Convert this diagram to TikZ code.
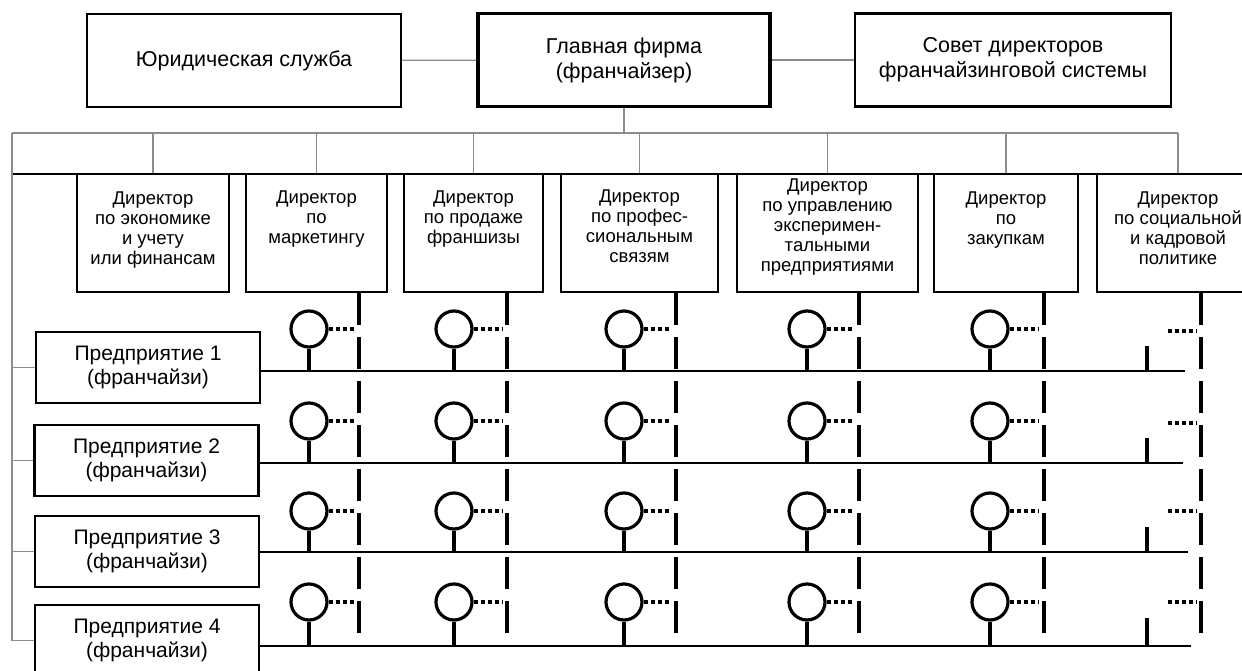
\documentclass[tikz,border=0pt]{standalone}
\usepackage{fontspec}
\setmainfont{Liberation Sans}
\usetikzlibrary{positioning}

\begin{document}
\begin{tikzpicture}[
		x=1pt, y=-1pt,
		every node/.style={align=center, inner sep=0pt},
		topbox/.style={draw, line width=2.2pt, minimum height=93pt, font=\fontsize{21.5}{25}\selectfont},
		dirbox/.style={draw, line width=2.2pt, minimum height=118pt},
		dirtext/.style={font=\fontsize{18.5}{20}\selectfont},
		entbox/.style={draw, line width=2.2pt, minimum width=224pt, minimum height=71pt, font=\fontsize{21}{23.5}\selectfont},
		link/.style={draw=black!45, line width=1.3pt},
		rowline/.style={line width=1.8pt},
		head/.style={circle, draw, line width=3.2pt, minimum size=36pt},
		stem/.style={line width=3.2pt},
		vdash/.style={line width=3.4pt, dash pattern=on 32pt off 12pt},
		dots/.style={line width=3.4pt, dash pattern=on 4pt off 3pt}
	]
  \useasboundingbox (0,0) rectangle (1242,671);
  \clip (0,0) rectangle (1242,671);

  \node (jur) [topbox, minimum width=314pt] at (244,60.5) {Юридическая служба};
  \node (main_firm) [topbox, minimum width=292pt, line width=3.6pt] at (624,60) {Главная фирма\\(франчайзер)};
  \node (board) [topbox, minimum width=316pt] at (1013,60) {Совет директоров\\франчайзинговой системы};
  \draw [link] (jur) -- (main_firm);
  \draw [link] (main_firm) -- (board);

  \coordinate (bus_l) at (12,133);
  \coordinate (bus_r) at (1178,133);
  \coordinate (top_l) at (12,174);
  \coordinate (top_r) at (1242,174);
  \draw [link] (bus_l) -- (bus_r);
  \draw [link] (main_firm) -- (main_firm.south |- bus_l);
  \draw [line width=2pt] (top_l) -- (top_r);

  \node (dir_1) [dirbox, minimum width=152pt] at (153,233) {};
  \node (dir_2) [dirbox, minimum width=141pt] at (316.5,233) {};
  \node (dir_3) [dirbox, minimum width=139pt] at (473.5,233) {};
  \node (dir_4) [dirbox, minimum width=157pt] at (639.5,233) {};
  \node (dir_5) [dirbox, minimum width=181pt] at (827.5,233) {};
  \node (dir_6) [dirbox, minimum width=144pt] at (1006,233) {};
  \node (dir_7) [dirbox, minimum width=162pt] at (1178,233) {};
  \node (dir_1_t) [dirtext, below=19pt of dir_1.north] {Директор\\по экономике\\и учету\\или финансам};
  \node (dir_2_t) [dirtext, below=18pt of dir_2.north] {Директор\\по\\маркетингу};
  \node (dir_3_t) [dirtext, below=18pt of dir_3.north] {Директор\\по продаже\\франшизы};
  \node (dir_4_t) [dirtext, below=17pt of dir_4.north] {Директор\\по профес-\\сиональным\\связям};
  \node (dir_5_t) [dirtext, below=6pt of dir_5.north] {Директор\\по управлению\\эксперимен-\\тальными\\предприятиями};
  \node (dir_6_t) [dirtext, below=19pt of dir_6.north] {Директор\\по\\закупкам};
  \node (dir_7_t) [dirtext, below=19pt of dir_7.north] {Директор\\по социальной\\и кадровой\\политике};
  \foreach \j in {1,...,7}
    \draw [link] (dir_\j.north) -- (dir_\j.north |- bus_l);

  \node (ent_1) [entbox] at (148,367.5) {Предприятие 1\\(франчайзи)};
  \node (ent_2) [entbox] at (146.5,460.5) {Предприятие 2\\(франчайзи)};
  \node (ent_3) [entbox] at (147,551.5) {Предприятие 3\\(франчайзи)};
  \node (ent_4) [entbox] at (147,640.5) {Предприятие 4\\(франчайзи)};
  \draw [link] (bus_l) |- (ent_4.west);
  \foreach \i in {1,2,3}
    \draw [link] (bus_l |- ent_\i.west) -- (ent_\i.west);

  \coordinate (row_1) at (1185,371);
  \coordinate (row_2) at (1183,463);
  \coordinate (row_3) at (1188,552);
  \coordinate (row_4) at (1191,646);
  \foreach \i in {1,...,4}
    \draw [rowline] (ent_\i.east |- row_\i) -- (row_\i);

  \foreach \j/\vx/\cx in {2/359/309, 3/507/454, 4/676/624, 5/859/807, 6/1044/990} {
    \coordinate (vert_\j) at (\vx,633);
    \draw [vdash] (dir_\j.south -| vert_\j) -- (vert_\j);
    \foreach \i/\cy in {1/329, 2/421, 3/511, 4/602} {
      \node (head_\j_\i) [head] at (\cx,\cy) {};
      \coordinate (dot_\j_\i) at (\vx-5,\cy);
      \draw [stem] (head_\j_\i.south) -- (head_\j_\i.south |- row_\i);
      \draw [dots] (head_\j_\i.east) -- (dot_\j_\i);
    }
  }

  \coordinate (vert_7) at (1201,635);
  \draw [vdash] (dir_7.south -| vert_7) -- (vert_7);
  \foreach \i/\cy/\ty in {1/331/346, 2/423/438, 3/511/527, 4/602/618} {
    \coordinate (tick_\i) at (1147,\ty);
    \coordinate (dot_a_\i) at (1168,\cy);
    \coordinate (dot_b_\i) at (1197,\cy);
    \draw [stem] (tick_\i) -- (tick_\i |- row_\i);
    \draw [dots] (dot_a_\i) -- (dot_b_\i);
  }
\end{tikzpicture}
\end{document}
